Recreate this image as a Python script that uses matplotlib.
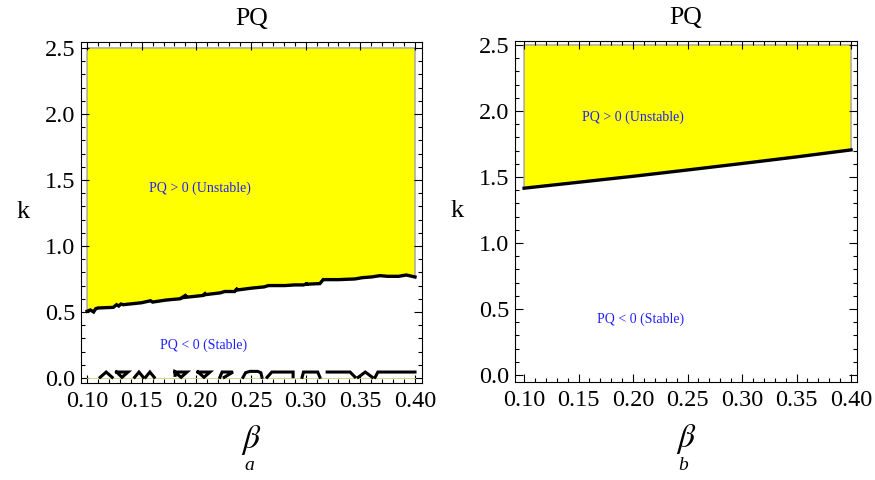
import numpy as np
import matplotlib
matplotlib.use('Agg')
import matplotlib.pyplot as plt
from matplotlib.ticker import MultipleLocator

plt.rcParams['font.family'] = ['Liberation Serif', 'DejaVu Serif']
plt.rcParams['mathtext.fontset'] = 'stix'

# panel a: jagged PQ = 0 boundary (beta, k)
beta_a = [0.100, 0.103, 0.106, 0.108, 0.110, 0.124, 0.127, 0.129, 0.131, 0.133,
          0.150, 0.158, 0.160, 0.172, 0.185, 0.191, 0.189, 0.206, 0.209, 0.207,
          0.222, 0.226, 0.235, 0.238, 0.236, 0.250, 0.262, 0.266, 0.281, 0.290,
          0.298, 0.302, 0.300, 0.313, 0.316, 0.330, 0.345, 0.352, 0.360, 0.368,
          0.375, 0.385, 0.392, 0.400]
k_a = [0.505, 0.515, 0.500, 0.525, 0.530, 0.535, 0.555, 0.545, 0.560, 0.555,
       0.570, 0.585, 0.575, 0.590, 0.600, 0.630, 0.610, 0.625, 0.645, 0.630,
       0.645, 0.655, 0.655, 0.680, 0.665, 0.680, 0.690, 0.700, 0.700, 0.705,
       0.705, 0.715, 0.710, 0.715, 0.745, 0.745, 0.750, 0.760, 0.765, 0.775,
       0.770, 0.770, 0.780, 0.765]

# panel a: spurious zero-contours near k = 0
noise_a = [
    ([0.112, 0.1175, 0.123], [0.005, 0.045, 0.005]),
    ([0.127, 0.1375, 0.132, 0.127], [0.045, 0.045, 0.005, 0.045]),
    ([0.1435, 0.1475, 0.1515], [0.005, 0.045, 0.005]),
    ([0.1535, 0.1575, 0.1615], [0.005, 0.045, 0.005]),
    ([0.1805, 0.1915, 0.186, 0.1805, 0.1805], [0.045, 0.045, 0.005, 0.045, 0.02]),
    ([0.2015, 0.2125, 0.207, 0.2015], [0.045, 0.045, 0.005, 0.045]),
    ([0.2215, 0.2235, 0.2335, 0.2255], [0.005, 0.045, 0.045, 0.005]),
    ([0.2427, 0.245, 0.249, 0.256, 0.259, 0.260], [0.005, 0.040, 0.050, 0.050, 0.040, 0.005]),
    ([0.2647, 0.269, 0.2885, 0.2885], [0.005, 0.045, 0.045, 0.010]),
    ([0.2967, 0.298, 0.311, 0.313], [0.005, 0.045, 0.045, 0.005]),
    ([0.3196, 0.3406, 0.345], [0.045, 0.045, 0.008]),
    ([0.348, 0.3545, 0.361], [0.005, 0.045, 0.005]),
    ([0.3635, 0.366, 0.400], [0.005, 0.045, 0.045]),
]

# panel b: smooth PQ = 0 boundary
beta_b = [0.10, 0.15, 0.20, 0.25, 0.30, 0.35, 0.40]
k_b = [1.415, 1.460, 1.505, 1.553, 1.602, 1.652, 1.705]

k_top = 2.5
yellow = '#ffff00'
blue = '#2020ff'


def style_axes(ax, xlim, ylim):
    ax.set_xlim(*xlim)
    ax.set_ylim(*ylim)
    ax.xaxis.set_major_locator(MultipleLocator(0.05))
    ax.xaxis.set_minor_locator(MultipleLocator(0.01))
    ax.yaxis.set_major_locator(MultipleLocator(0.5))
    ax.yaxis.set_minor_locator(MultipleLocator(0.1))
    ax.xaxis.set_major_formatter(plt.FuncFormatter(lambda v, p: '%.2f' % v))
    ax.yaxis.set_major_formatter(plt.FuncFormatter(lambda v, p: '%.1f' % v))
    ax.tick_params(which='both', direction='in', top=True, right=True,
                   labelsize=17.5, width=0.8)
    ax.tick_params(axis='x', pad=6)
    ax.tick_params(axis='y', pad=4)
    ax.tick_params(which='major', length=6)
    ax.tick_params(which='minor', length=3)
    for s in ax.spines.values():
        s.set_linewidth(0.8)
    ax.set_title('PQ', fontsize=18.5, pad=12)
    ax.set_ylabel('k', fontsize=19, rotation=0, labelpad=16, va='center')


def fill_above(ax, b, k):
    xs = list(b) + [b[-1], b[0]]
    ys = list(k) + [k_top, k_top]
    ax.fill(xs, ys, facecolor=yellow, edgecolor='#a0a0a0', lw=1.0, zorder=1)
    ax.plot(b, k, color='black', lw=2.4, solid_joinstyle='miter', zorder=3)


fig = plt.figure(figsize=(8.75, 4.8), dpi=100)
ax1 = fig.add_axes([0.0926, 0.2021, 0.3897, 0.7104])
ax2 = fig.add_axes([0.5886, 0.2042, 0.3909, 0.7104])

# panel a
fill_above(ax1, beta_a, k_a)
ax1.plot([0.1, 0.4], [0.003, 0.003], color='#d8d070', lw=0.6, zorder=2)
for xs, ys in noise_a:
    ax1.plot(xs, ys, color='black', lw=2.2, solid_joinstyle='miter', zorder=3)
ax1.text(0.203, 1.44, 'PQ > 0 (Unstable)', color=blue, fontsize=10, ha='center', va='center')
ax1.text(0.207, 0.25, 'PQ < 0 (Stable)', color=blue, fontsize=10, ha='center', va='center')
style_axes(ax1, (0.0945, 0.4064), (-0.038, 2.545))
ax1.set_xlabel(r'$\beta$', fontsize=24, labelpad=8)
fig.text(0.285, 0.02, 'a', fontsize=14, style='italic', ha='center')

# panel b
fill_above(ax2, beta_b, k_b)
ax2.text(0.200, 1.95, 'PQ > 0 (Unstable)', color=blue, fontsize=10, ha='center', va='center')
ax2.text(0.207, 0.42, 'PQ < 0 (Stable)', color=blue, fontsize=10, ha='center', va='center')
style_axes(ax2, (0.0917, 0.4055), (-0.053, 2.53))
ax2.set_xlabel(r'$\beta$', fontsize=24, labelpad=8)
fig.text(0.781, 0.02, 'b', fontsize=14, style='italic', ha='center')

fig.savefig('out.png', dpi=100)
